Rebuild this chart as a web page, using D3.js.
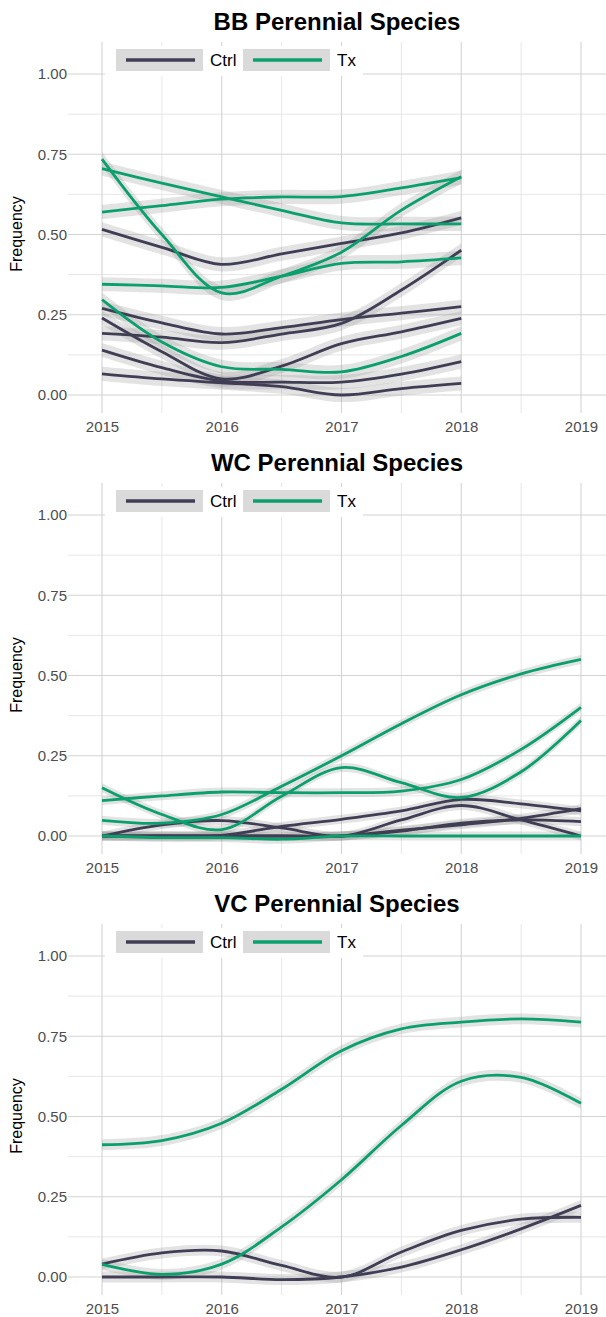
<!DOCTYPE html>
<html>
<head>
<meta charset="utf-8">
<script src="https://cdn.jsdelivr.net/npm/d3@7"></script>
<style>
  body { margin: 0; background: #fff; }
  text { font-family: "Liberation Sans", Arial, sans-serif; }
</style>
</head>
<body>
<div id="chart"></div>
<script>
// values, every half year
var bbYears = [2015, 2015.5, 2016, 2016.5, 2017, 2017.5, 2018];
var allYears = [2015, 2015.5, 2016, 2016.5, 2017, 2017.5, 2018, 2018.5, 2019];

var bbCtrl = [
    [0.516, 0.46, 0.407, 0.44, 0.472, 0.505, 0.552],
    [0.27, 0.225, 0.19, 0.21, 0.235, 0.255, 0.275],
    [0.24, 0.135, 0.05, 0.09, 0.16, 0.197, 0.239],
    [0.192, 0.18, 0.163, 0.19, 0.223, 0.327, 0.451],
    [0.14, 0.085, 0.043, 0.04, 0.04, 0.065, 0.104],
    [0.066, 0.05, 0.038, 0.026, 0.0, 0.02, 0.036]
];
var bbTx = [
    [0.735, 0.50, 0.318, 0.37, 0.445, 0.576, 0.68],
    [0.705, 0.66, 0.617, 0.575, 0.536, 0.533, 0.533],
    [0.57, 0.59, 0.61, 0.617, 0.618, 0.645, 0.677],
    [0.345, 0.34, 0.335, 0.37, 0.41, 0.415, 0.427],
    [0.297, 0.165, 0.088, 0.08, 0.072, 0.12, 0.192]
];

var wcCtrl = [
    [0.0, 0.035, 0.048, 0.025, 0.0, 0.05, 0.095, 0.05, 0.0],
    [0.0, 0.0, 0.002, 0.03, 0.052, 0.078, 0.114, 0.1, 0.078],
    [0.0, 0.0, 0.0, 0.0, 0.0, 0.018, 0.035, 0.055, 0.085],
    [0.0, 0.0, 0.0, 0.0, 0.0, 0.015, 0.04, 0.05, 0.045]
];
var wcTx = [
    [0.11, 0.125, 0.137, 0.135, 0.135, 0.14, 0.176, 0.27, 0.401],
    [0.049, 0.04, 0.067, 0.155, 0.25, 0.35, 0.44, 0.505, 0.55],
    [0.15, 0.067, 0.02, 0.124, 0.213, 0.166, 0.12, 0.2, 0.36],
    [0.0, -0.005, -0.005, -0.01, 0.0, 0.0, 0.0, 0.0, 0.0]
];

var vcCtrl = [
    [0.04, 0.075, 0.081, 0.036, 0.0, 0.078, 0.145, 0.18, 0.186],
    [0.0, 0.0, 0.0, -0.008, 0.0, 0.031, 0.085, 0.15, 0.223]
];
var vcTx = [
    [0.412, 0.425, 0.479, 0.585, 0.705, 0.773, 0.794, 0.804, 0.794],
    [0.039, 0.008, 0.04, 0.156, 0.303, 0.472, 0.61, 0.622, 0.541]
];

// half width of the confidence band of each panel
var bandSe = [0.022, 0.014, 0.017];

var panelTitles = ["BB Perennial Species", "WC Perennial Species", "VC Perennial Species"];
var groupNames = ["Ctrl", "Tx"];
var groupColors = ["#403e55", "#0aa06e"];
var yTicks = [0, 0.25, 0.5, 0.75, 1];
var yMinor = [0.125, 0.375, 0.625, 0.875];
var xTicks = [2015, 2016, 2017, 2018, 2019];
var xMinor = [2015.5, 2016.5, 2017.5, 2018.5];

var W = 606, H = 1317;
var svg = d3.select("#chart").append("svg")
    .attr("width", W)
    .attr("height", H);

var panels = [
    { years: bbYears, ctrl: bbCtrl, tx: bbTx },
    { years: allYears, ctrl: wcCtrl, tx: wcTx },
    { years: allYears, ctrl: vcCtrl, tx: vcTx }
];

panels.forEach(function(p, i) {
    var top = i * 441;
    var left = 68, right = W, pTop = top + 42, pBottom = top + 413;
    var g = svg.append("g");

    var x = d3.scaleLinear().domain([2015, 2019]).range([102, 581]);
    var y = d3.scaleLinear().domain([0, 1]).range([top + 395, top + 74]);

    // grid lines
    g.append("g").selectAll("line").data(yMinor).enter().append("line")
        .attr("x1", left).attr("x2", right)
        .attr("y1", d => y(d)).attr("y2", d => y(d))
        .style("stroke", "#e6e6e6").style("stroke-width", 1);
    g.append("g").selectAll("line").data(xMinor).enter().append("line")
        .attr("x1", d => x(d)).attr("x2", d => x(d))
        .attr("y1", pTop).attr("y2", pBottom)
        .style("stroke", "#e6e6e6").style("stroke-width", 1);
    g.append("g").selectAll("line").data(yTicks).enter().append("line")
        .attr("x1", left).attr("x2", right)
        .attr("y1", d => y(d)).attr("y2", d => y(d))
        .style("stroke", "#d4d4d4").style("stroke-width", 1.1);
    g.append("g").selectAll("line").data(xTicks).enter().append("line")
        .attr("x1", d => x(d)).attr("x2", d => x(d))
        .attr("y1", pTop).attr("y2", pBottom)
        .style("stroke", "#d4d4d4").style("stroke-width", 1.1);

    // axes (labels only)
    var yAxis = g.append("g")
        .attr("transform", "translate(" + left + ",0)")
        .call(d3.axisLeft(y).tickValues(yTicks).tickFormat(d3.format(".2f")).tickSize(0).tickPadding(1));
    var xAxis = g.append("g")
        .attr("transform", "translate(0," + pBottom + ")")
        .call(d3.axisBottom(x).tickValues(xTicks).tickFormat(d3.format("d")).tickSize(0).tickPadding(8));
    [yAxis, xAxis].forEach(function(a) {
        a.select(".domain").remove();
        a.selectAll("text")
            .style("font-size", "15px")
            .style("fill", "#4d4d4d")
            .style("font-family", "'Liberation Sans', Arial, sans-serif");
    });

    // y title
    g.append("text")
        .attr("transform", "translate(22," + (top + 234) + ") rotate(-90)")
        .attr("text-anchor", "middle")
        .style("font-size", "16px")
        .style("fill", "#000")
        .text("Frequency");

    // smooth lines with bands
    var curve = d3.curveCatmullRom.alpha(0.5);
    var series = [];
    p.ctrl.forEach(v => series.push({ group: 0, values: v }));
    p.tx.forEach(v => series.push({ group: 1, values: v }));

    var se = bandSe[i];
    var area = d3.area()
        .x((d, k) => x(p.years[k]))
        .y0(d => y(d - se))
        .y1(d => y(d + se))
        .curve(curve);
    var line = d3.line()
        .x((d, k) => x(p.years[k]))
        .y(d => y(d))
        .curve(curve);

    g.append("g").selectAll("path").data(series).enter().append("path")
        .attr("d", d => area(d.values))
        .style("fill", "#999999")
        .style("fill-opacity", 0.28);
    g.append("g").selectAll("path").data(series).enter().append("path")
        .attr("d", d => line(d.values))
        .style("fill", "none")
        .style("stroke", d => groupColors[d.group])
        .style("stroke-width", 2.8);

    // title
    g.append("text")
        .attr("x", (left + right) / 2)
        .attr("y", top + 30)
        .attr("text-anchor", "middle")
        .style("font-size", "24px")
        .style("font-weight", "bold")
        .style("fill", "#000")
        .text(panelTitles[i]);

    // legend inside the panel, top left
    var legend = g.append("g").attr("transform", "translate(0," + top + ")");
    legend.append("rect")
        .attr("x", 105).attr("y", 46).attr("width", 258).attr("height", 30)
        .style("fill", "#fff");
    var keyX = [116, 243];
    legend.selectAll("rect.key").data(groupNames).enter().append("rect")
        .attr("class", "key")
        .attr("x", (d, k) => keyX[k]).attr("y", 49)
        .attr("width", 87).attr("height", 22)
        .style("fill", "#dadada");
    legend.selectAll("line").data(groupNames).enter().append("line")
        .attr("x1", (d, k) => keyX[k] + 10).attr("x2", (d, k) => keyX[k] + 79)
        .attr("y1", 60).attr("y2", 60)
        .style("stroke", (d, k) => groupColors[k])
        .style("stroke-width", 3.4);
    legend.selectAll("text").data(groupNames).enter().append("text")
        .attr("x", (d, k) => keyX[k] + 94)
        .attr("y", 66)
        .style("font-size", "17px")
        .style("fill", "#000")
        .text(d => d);
});
</script>
</body>
</html>
